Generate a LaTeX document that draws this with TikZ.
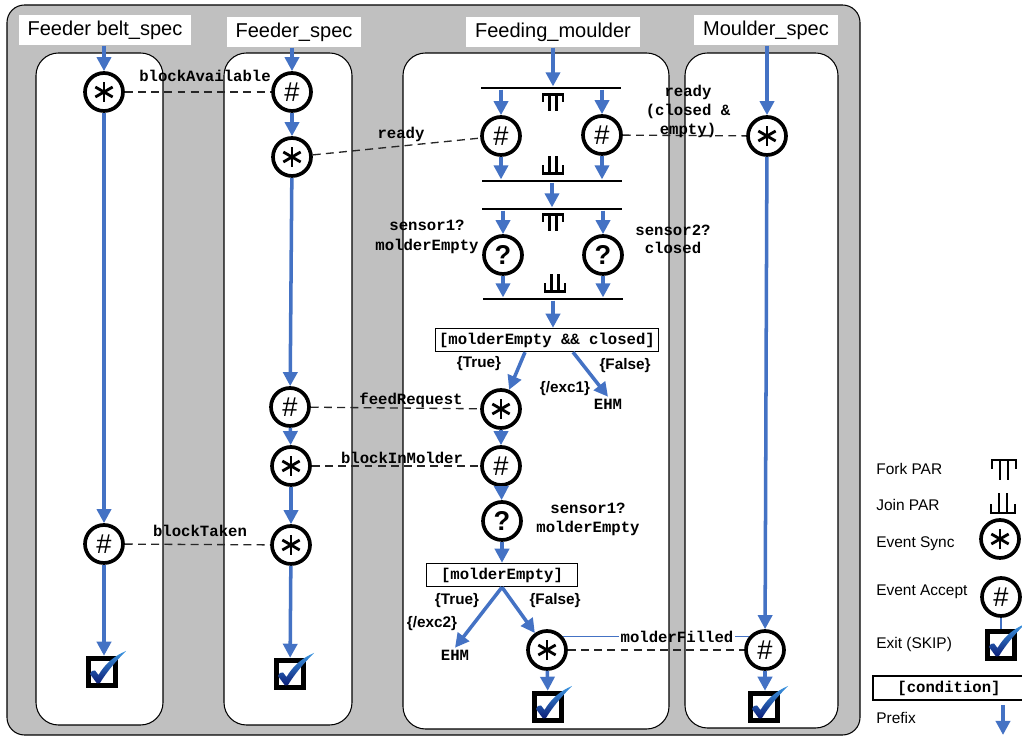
\documentclass[tikz,border=0pt]{standalone}
\usepackage{fontspec}
\setmainfont{Liberation Sans}
\setmonofont{Liberation Mono}
\usetikzlibrary{arrows.meta,calc}

\definecolor{prefixblue}{RGB}{68,114,196}
\definecolor{lanegray}{RGB}{192,192,192}
\definecolor{tickdark}{RGB}{12,30,120}
\definecolor{ticklight}{RGB}{60,150,225}

\tikzset{
  prefixarrow/.style={draw=prefixblue, line width=2pt, -{Triangle[width=8pt,length=8pt]}},
  msgline/.style={draw=black!85, line width=0.75pt, dash pattern=on 4.5pt off 3pt},
  lane/.style={fill=white, draw=black, line width=0.6pt, rounded corners=0.45cm},
  lanetitle/.style={fill=white, inner xsep=5pt, minimum height=0.56cm, font=\fontsize{11.4}{13.7}\selectfont},
  msg/.style={font=\ttfamily\bfseries\fontsize{8.9}{11}\selectfont, inner sep=1pt, align=center},
  guard/.style={font=\bfseries\fontsize{8.7}{10}\selectfont, inner sep=1pt},
  legtxt/.style={font=\fontsize{8.8}{10}\selectfont, anchor=west, inner sep=0pt},
  cond/.style={draw, fill=white, line width=0.8pt, minimum height=0.46cm, inner sep=2pt,
    font=\ttfamily\bfseries\fontsize{8.9}{10}\selectfont},
  parbar/.style={rectangle, fill=black, minimum width=2.8cm, minimum height=0.05cm, inner sep=0pt},
  evt/.style={circle, draw, fill=white, line width=2.1pt, minimum size=0.76cm, inner sep=0pt},
  sync/.style={evt, path picture={
    \foreach \a in {90,30,150}
      \draw[line width=1.6pt] ($(path picture bounding box.center)+(\a:10)$) -- ($(path picture bounding box.center)+(\a+180:10)$);}},
  accept/.style={evt, font=\fontsize{15.5}{15.5}\selectfont},
  query/.style={evt, font=\bfseries\fontsize{15.5}{15.5}\selectfont},
  exitbox/.style={rectangle, draw, fill=white, line width=2.8pt, minimum size=0.55cm, inner sep=0pt},
  forksym/.pic={
    \draw[line width=1.4pt] (-11,-8.5) -- (11,-8.5);
    \draw[line width=1.4pt] (-10,-8.5) -- (-10,-0.5) (10,-8.5) -- (10,-0.5)
      (-3.5,-8.5) -- (-3.5,8.5) (3.5,-8.5) -- (3.5,8.5);},
  joinsym/.pic={
    \draw[line width=1.4pt] (-11,8.5) -- (11,8.5);
    \draw[line width=1.4pt] (-10,8.5) -- (-10,0.5) (10,8.5) -- (10,0.5)
      (-3.5,8.5) -- (-3.5,-8.5) (3.5,8.5) -- (3.5,-8.5);}
}

% blue tick over an exit box
\newcommand{\skiptick}[1]{%
  \shade[shift={(#1.center)}, top color=ticklight, bottom color=tickdark]
    (-12,2) .. controls (-10,-1.5) .. (-7,-1.5) -- (-3.5,3)
    .. controls (3,-8) and (12,-16) .. (24,-21)
    .. controls (13,-10) and (4,1) .. (-2,11) -- (-5,11.5) -- cycle;}

\begin{document}
\begin{tikzpicture}[x=0.02cm, y=-0.02cm]
    \useasboundingbox (0,0) rectangle (1022,739);

    %Draw background and lanes
    \draw[fill=lanegray, line width=0.6pt, rounded corners=0.35cm] (7,5) rectangle (860,735);
    \draw[lane] (36,53) rectangle (163,725);
    \draw[lane] (224,53) rectangle (352,725);
    \draw[lane] (403,53) rectangle (669,729);
    \draw[lane] (685,53) rectangle (838,728);

    \node[lanetitle] (tBelt) at (105,30) {Feeder belt\_spec};
    \node[lanetitle] (tFeeder) at (294,32) {Feeder\_spec};
    \node[lanetitle] (tFeeding) at (553,32) {Feeding\_moulder};
    \node[lanetitle] (tMoulder) at (766,30) {Moulder\_spec};

    %Feeder belt
    \node[sync] (bSync) at (104,92) {};
    \node[accept] (bAcc) at (104,544) {\#};
    \node[exitbox] (bExit) at (102,672) {};
    \draw[prefixarrow] (tBelt.south -| bSync) -- (bSync);
    \draw[prefixarrow] (bSync) -- (bAcc);
    \draw[prefixarrow] (bAcc) -- (bAcc |- bExit.north);
    \skiptick{bExit}

    %Feeder
    \node[accept] (fAcc1) at (292,92) {\#};
    \node[sync] (fSync1) at (292,157) {};
    \node[accept] (fAcc2) at (290,407) {\#};
    \node[sync] (fSync2) at (291,466) {};
    \node[sync] (fSync3) at (291,545) {};
    \node[exitbox] (fExit) at (290,674) {};
    \draw[prefixarrow] (tFeeder.south -| fAcc1) -- (fAcc1);
    \draw[prefixarrow] (fAcc1) -- (fSync1);
    \draw[prefixarrow] (fSync1) -- (fAcc2);
    \draw[prefixarrow] (fAcc2) -- (fSync2);
    \draw[prefixarrow] (fSync2) -- (fSync3);
    \draw[prefixarrow] (fSync3) -- (fExit);
    \skiptick{fExit}

    %Feeding moulder: first PAR block
    \node[parbar] (bar1) at (551,88) {};
    \pic at (553,103) {forksym};
    \node[accept] (mAccL) at (501,136) {\#};
    \node[accept] (mAccR) at (602,135) {\#};
    \pic at (553,165) {joinsym};
    \node[parbar] (bar2) at (552,181) {};
    \draw[prefixarrow] (tFeeding.south -| 553,0) -- (553,0 |- bar1.north);
    \draw[prefixarrow] (bar1.south -| mAccL) -- (mAccL);
    \draw[prefixarrow] (bar1.south -| mAccR) -- (mAccR);
    \draw[prefixarrow] (mAccL) -- (mAccL |- bar2.north);
    \draw[prefixarrow] (mAccR) -- (mAccR |- bar2.north);

    %Feeding moulder: second PAR block
    \node[parbar] (bar3) at (552,209) {};
    \pic at (553,223) {forksym};
    \node[query] (mQL) at (503,255) {?};
    \node[query] (mQR) at (603,255) {?};
    \pic at (555,283) {joinsym};
    \node[parbar] (bar4) at (553,299) {};
    \draw[prefixarrow] (bar2) -- (bar3);
    \draw[prefixarrow] (bar3.south -| mQL) -- (mQL);
    \draw[prefixarrow] (bar3.south -| mQR) -- (mQR);
    \draw[prefixarrow] (mQL) -- (mQL |- bar4.north);
    \draw[prefixarrow] (mQR) -- (mQR |- bar4.north);

    %Feeding moulder: choices
    \node[cond, minimum width=4.46cm] (cond1) at (547,340) {[molderEmpty \&\& closed]};
    \node[msg] (ehm1) at (608,404) {EHM};
    \node[sync] (mSync1) at (501,409) {};
    \node[accept] (mAcc3) at (501,466) {\#};
    \node[query] (mQ3) at (502,521) {?};
    \node[cond, minimum width=3.02cm] (cond2) at (502,575) {[molderEmpty]};
    \node[msg] (ehm2) at (455,655) {EHM};
    \node[sync] (mSync2) at (547,650) {};
    \node[exitbox] (mExit) at (548,707) {};
    \draw[prefixarrow] (bar4) -- (bar4 |- cond1.north);
    \draw[prefixarrow] ($(cond1.south)+(-22,0)$) -- (mSync1);
    \draw[prefixarrow] ($(cond1.south)+(26,0)$) -- (ehm1.north);
    \draw[prefixarrow] (mSync1) -- (mAcc3);
    \draw[prefixarrow] (mAcc3) -- (mQ3);
    \draw[prefixarrow] (mQ3) -- (cond2);
    \draw[prefixarrow] (cond2.south) -- (ehm2.north);
    \draw[prefixarrow] (cond2.south) -- (mSync2);
    \draw[prefixarrow] (mSync2) -- (mExit);
    \skiptick{mExit}

    \node[guard] (gTrue1) at (479,364) {\{True\}};
    \node[guard] (gFalse1) at (625,366) {\{False\}};
    \node[guard] (gExc1) at (565,389) {\{/exc1\}};
    \node[guard] (gTrue2) at (457,601) {\{True\}};
    \node[guard] (gFalse2) at (555,601) {\{False\}};
    \node[guard] (gExc2) at (432,624) {\{/exc2\}};

    %Moulder
    \node[sync] (oSync) at (767,136) {};
    \node[accept] (oAcc) at (765,650) {\#};
    \node[exitbox] (oExit) at (764,707) {};
    \draw[prefixarrow] (tMoulder.south -| oSync) -- (oSync);
    \draw[prefixarrow] (oSync) -- (oAcc);
    \draw[prefixarrow] (oAcc) -- (oAcc |- oExit.north);
    \skiptick{oExit}

    %Draw synchronisations
    \draw[msgline] (bSync) -- (fAcc1);
    \node[msg] (lAvail) at (205,76) {blockAvailable};
    \draw[msgline] (fSync1) -- (mAccL);
    \node[msg] (lReady) at (401,134) {ready};
    \draw[msgline] (mAccR) -- (oSync);
    \node[msg, font=\ttfamily\bfseries\fontsize{8.9}{10.8}\selectfont] (lReady2) at (688,111) {ready\\(closed \&\\empty)};
    \node[msg, font=\ttfamily\bfseries\fontsize{8.9}{11.3}\selectfont] (lSens1) at (427,237) {sensor1?\\molderEmpty};
    \node[msg, font=\ttfamily\bfseries\fontsize{8.9}{10.3}\selectfont] (lSens2) at (673,239) {sensor2?\\closed};
    \draw[msgline] (fAcc2) -- (mSync1);
    \node[msg] (lFeed) at (411,400) {feedRequest};
    \draw[msgline] (fSync2) -- (mAcc3);
    \node[msg] (lInMold) at (402,458) {blockInMolder};
    \draw[msgline] (bAcc) -- (fSync3);
    \node[msg] (lTaken) at (200,531) {blockTaken};
    \node[msg, font=\ttfamily\bfseries\fontsize{8.9}{10.8}\selectfont] (lSens3) at (588,519) {sensor1?\\molderEmpty};
    \draw[msgline] (mSync2) -- (oAcc);
    \node[msg] (lFilled) at (677,637) {molderFilled};
    \draw[draw=prefixblue, line width=0.6pt] (mSync2.40) -- (mSync2.40 -| lFilled.west);
    \draw[draw=prefixblue, line width=0.6pt] (oAcc.140 -| lFilled.east) -- (oAcc.140);

    %Legend
    \node[legtxt] (lgFork) at (876,469) {Fork PAR};
    \pic[scale=1.2] at (1004,470) {forksym};
    \node[legtxt] (lgJoin) at (876,505) {Join PAR};
    \pic[scale=1.2] at (1003,503) {joinsym};
    \node[legtxt] (lgSync) at (876,544) {Event Sync};
    \node[sync] (lgSyncSym) at (1000,539) {};
    \node[legtxt] (lgAcc) at (876,592) {Event Accept};
    \node[accept] (lgAccSym) at (1001,597) {\#};
    \node[legtxt] (lgExit) at (876,645) {Exit (SKIP)};
    \node[exitbox] (lgExitSym) at (1001,645) {};
    \draw[draw=prefixblue, line width=0.6pt] (lgAccSym) -- (lgExitSym);
    \skiptick{lgExitSym}
    \node[cond, minimum width=3.04cm, minimum height=0.48cm] (lgCond) at (949,688) {[condition]};
    \node[legtxt] (lgPrefix) at (876,718) {Prefix};
    \coordinate (pfTop) at (1003,705);
    \coordinate (pfEnd) at (1003,735);
    \draw[prefixarrow] (pfTop) -- (pfEnd);

\end{tikzpicture}
\end{document}
